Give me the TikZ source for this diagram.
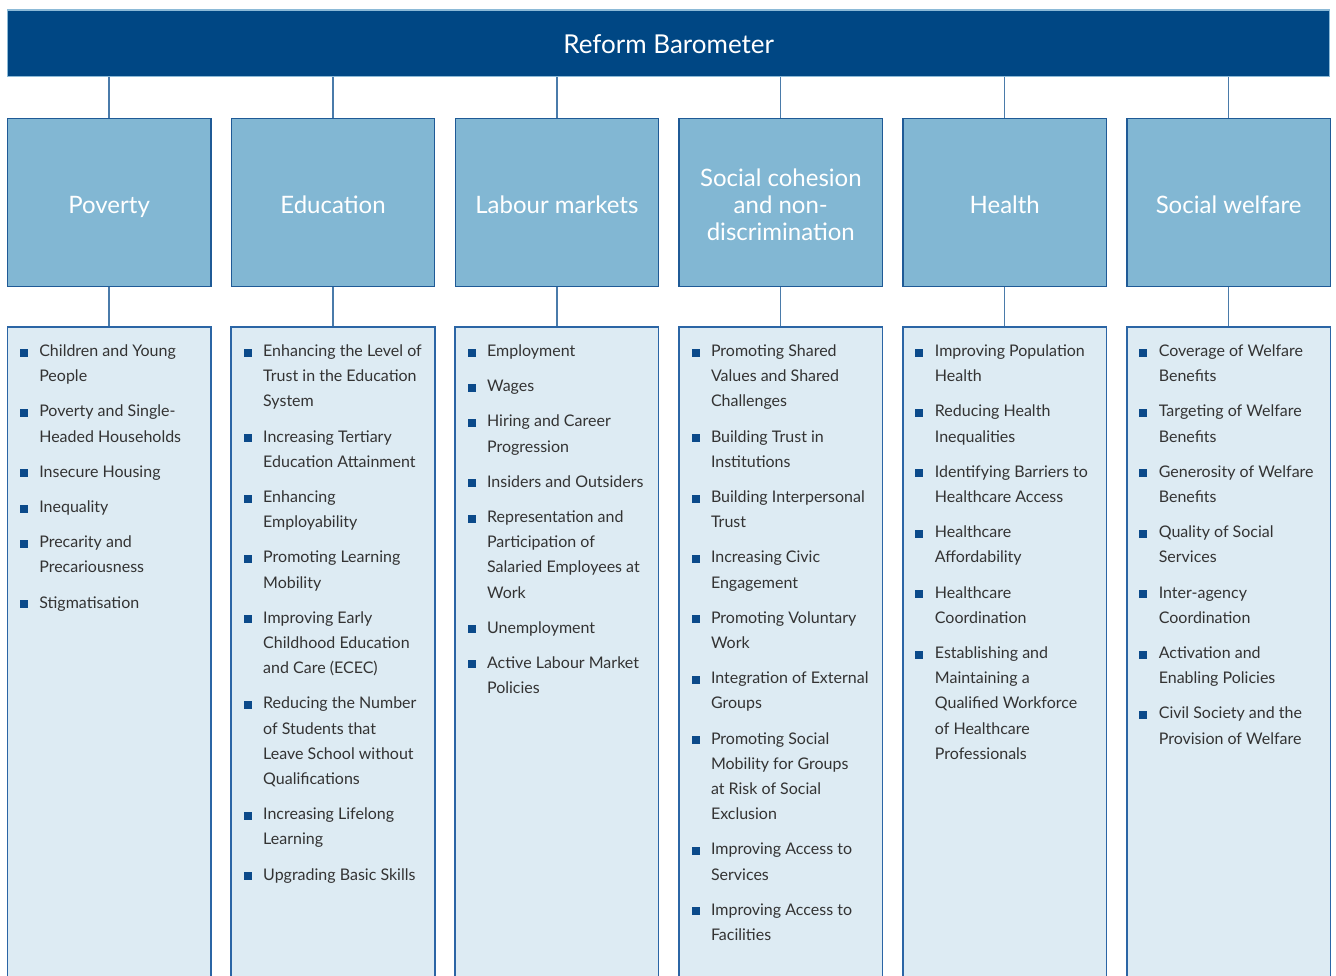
\documentclass[tikz,border=0pt]{standalone}
\usepackage{fontspec}
\setmainfont{Lato}
\definecolor{bannerfill}{HTML}{004784}
\definecolor{bannerline}{HTML}{8CBAD7}
\definecolor{catfill}{HTML}{82B7D3}
\definecolor{catline}{HTML}{1F5A96}
\definecolor{listfill}{HTML}{DDEBF3}
\definecolor{listline}{HTML}{2B65A5}
\definecolor{connc}{HTML}{4A7BAA}
\definecolor{bulc}{HTML}{0B4A8A}
\definecolor{txtc}{HTML}{333333}
\newcommand\bulsq{\textcolor{bulc}{\rule{8pt}{8pt}}}
\newcommand\itm[1]{\par\noindent\hangindent=19.5pt\hangafter=1\makebox[19.5pt][l]{\bulsq}#1\par}
\newcommand\lst[1]{\parbox[t]{195pt}{\fontsize{16}{25.2}\selectfont\setlength\parskip{10pt}#1}}
\tikzset{
  banner/.style={draw=bannerline, fill=bannerfill, line width=1.5pt, minimum width=1322pt, minimum height=66.7pt, inner sep=0pt},
  bannertext/.style={anchor=base, inner sep=0pt, text=white, font=\fontsize{26}{30}\selectfont},
  cat/.style={draw=catline, fill=catfill, line width=1.3pt, minimum width=203.5pt, minimum height=168.4pt, inner sep=0pt},
  cattext/.style={anchor=base, inner sep=0pt, text=white, font=\fontsize{24}{27}\selectfont},
  listbox/.style={draw=listline, fill=listfill, line width=1.6pt, minimum width=203.5pt, minimum height=700pt, inner sep=0pt},
  listtext/.style={anchor=base west, inner sep=0pt, text=txtc},
  connline/.style={draw=connc, line width=1.3pt}
}
\begin{document}
\begin{tikzpicture}[x=1pt,y=-1pt]
\useasboundingbox (0,0) rectangle (1336,976);
\clip (0,0) rectangle (1336,976);
\node[banner] (top) at (668.7,43.4) {};
\node[bannertext] (toptext) at (668.7,53.3) {Reform Barometer};
\foreach \i in {1,...,6}{
  \pgfmathsetmacro\cx{109.1+(\i-1)*223.9}
  \node[cat] (c\i) at (\cx,202.5) {};
  \node[listbox] (l\i) at (\cx,677.3) {};
  \draw[connline] (top.south -| c\i.north) -- (c\i.north);
  \draw[connline] (c\i.south) -- (l\i.north);
}
\node[cattext] (ct1) at (c1.center |- 0,213.3) {Poverty};
\node[cattext] (ct2) at (c2.center |- 0,213.3) {Education};
\node[cattext] (ct3) at (c3.center |- 0,213.3) {Labour markets};
\node[cattext] (ct4) at (c4.center |- 0,186.5) {\parbox[t]{200pt}{\centering\fontsize{24}{27}\selectfont Social cohesion\\and non-\\discrimination}};
\node[cattext] (ct5) at (c5.center |- 0,213.3) {Health};
\node[cattext] (ct6) at (c6.center |- 0,213.3) {Social welfare};
\node[listtext] (t1) at (19.6,356.5) {\lst{%
\itm{Children and Young\newline People}
\itm{Poverty and Single-\newline Headed Households}
\itm{Insecure Housing}
\itm{Inequality}
\itm{Precarity and\newline Precariousness}
\itm{Stigmatisation}}};
\node[listtext] (t2) at (243.5,356.5) {\lst{%
\itm{Enhancing the Level of\newline Trust in the Education\newline System}
\itm{Increasing Tertiary\newline Education Attainment}
\itm{Enhancing\newline Employability}
\itm{Promoting Learning\newline Mobility}
\itm{Improving Early\newline Childhood Education\newline and Care (ECEC)}
\itm{Reducing the Number\newline of Students that\newline Leave School without\newline Qualifications}
\itm{Increasing Lifelong\newline Learning}
\itm{Upgrading Basic Skills}}};
\node[listtext] (t3) at (467.4,356.5) {\lst{%
\itm{Employment}
\itm{Wages}
\itm{Hiring and Career\newline Progression}
\itm{Insiders and Outsiders}
\itm{Representation and\newline Participation of\newline Salaried Employees at\newline Work}
\itm{Unemployment}
\itm{Active Labour Market\newline Policies}}};
\node[listtext] (t4) at (691.3,356.5) {\lst{%
\itm{Promoting Shared\newline Values and Shared\newline Challenges}
\itm{Building Trust in\newline Institutions}
\itm{Building Interpersonal\newline Trust}
\itm{Increasing Civic\newline Engagement}
\itm{Promoting Voluntary\newline Work}
\itm{Integration of External\newline Groups}
\itm{Promoting Social\newline Mobility for Groups\newline at Risk of Social\newline Exclusion}
\itm{Improving Access to\newline Services}
\itm{Improving Access to\newline Facilities}}};
\node[listtext] (t5) at (915.2,356.5) {\lst{%
\itm{Improving Population\newline Health}
\itm{Reducing Health\newline Inequalities}
\itm{Identifying Barriers to\newline Healthcare Access}
\itm{Healthcare\newline Affordability}
\itm{Healthcare\newline Coordination}
\itm{Establishing and\newline Maintaining a\newline Qualified Workforce\newline of Healthcare\newline Professionals}}};
\node[listtext] (t6) at (1139.1,356.5) {\lst{%
\itm{Coverage of Welfare\newline Benefits}
\itm{Targeting of Welfare\newline Benefits}
\itm{Generosity of Welfare\newline Benefits}
\itm{Quality of Social\newline Services}
\itm{Inter-agency\newline Coordination}
\itm{Activation and\newline Enabling Policies}
\itm{Civil Society and the\newline Provision of Welfare}}};
\end{tikzpicture}
\end{document}
